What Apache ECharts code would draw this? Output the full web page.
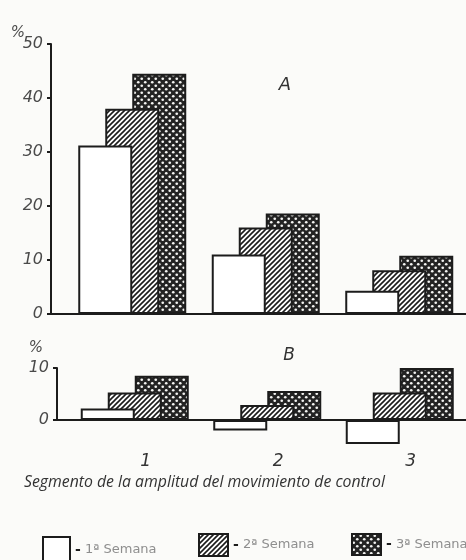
<!DOCTYPE html>
<html>
<head>
<meta charset="utf-8">
<script src="https://cdn.jsdelivr.net/npm/echarts@6/dist/echarts.min.js"></script>
<style>
  html, body { margin: 0; padding: 0; background: #fbfbf9; }
  #chart { width: 466px; height: 560px; }
</style>
</head>
<body>
<div id="chart"></div>
<script>
// Segments of the control-movement amplitude
const categories = ['1', '2', '3'];
const weekNames = ['1ª Semana', '2ª Semana', '3ª Semana'];

// Panel A, percentage per segment and week
const panelAWeek1 = [31.2, 11.0, 4.3];
const panelAWeek2 = [38.0, 16.0, 8.1];
const panelAWeek3 = [44.5, 18.6, 10.8];

// Panel B, percentage per segment and week
const panelBWeek1 = [2.2, -2.0, -4.6];
const panelBWeek2 = [5.3, 2.9, 5.3];
const panelBWeek3 = [8.5, 5.6, 10.0];

// Tick values of the two vertical axes
const panelATicks = [0, 10, 20, 30, 40, 50];
const panelBTicks = [0, 10];

const INK = '#1c1c1c';
const LABEL = '#4a4a4a';

// Fill patterns: diagonal hatching and a dark crosshatch with light dots
function hatchTile() {
  const s = 5;
  const c = document.createElement('canvas');
  c.width = s; c.height = s;
  const g = c.getContext('2d');
  g.fillStyle = '#ffffff';
  g.fillRect(0, 0, s, s);
  g.strokeStyle = INK;
  g.lineWidth = 1.6;
  g.beginPath();
  g.moveTo(-1, s + 1); g.lineTo(s + 1, -1);
  g.moveTo(-1, 1); g.lineTo(1, -1);
  g.moveTo(s - 1, s + 1); g.lineTo(s + 1, s - 1);
  g.stroke();
  return c;
}
function dotTile() {
  const s = 7;
  const c = document.createElement('canvas');
  c.width = s; c.height = s;
  const g = c.getContext('2d');
  g.fillStyle = '#232323';
  g.fillRect(0, 0, s, s);
  g.fillStyle = '#f4f4f2';
  [[1.75, 1.75], [5.25, 5.25]].forEach(([x, y]) => {
    g.beginPath(); g.arc(x, y, 1.35, 0, Math.PI * 2); g.fill();
  });
  return c;
}

const fills = [
  '#ffffff',
  { image: hatchTile(), repeat: 'repeat' },
  { image: dotTile(), repeat: 'repeat' }
];

const tickFont = { fontFamily: 'DejaVu Sans', fontStyle: 'italic', fontSize: 16, color: LABEL };

function frameX(gridIndex) {
  return {
    gridIndex, type: 'value', min: 0, max: 1,
    axisLine: { show: true, lineStyle: { color: INK, width: 2 } },
    axisTick: { show: false }, axisLabel: { show: false }, splitLine: { show: false }
  };
}
function frameY(gridIndex, ticks) {
  return {
    gridIndex, type: 'value',
    min: ticks[0], max: ticks[ticks.length - 1], interval: ticks[1] - ticks[0],
    axisLine: { show: true, lineStyle: { color: INK, width: 2 } },
    axisTick: { show: true, length: 4, lineStyle: { color: INK, width: 2 } },
    axisLabel: Object.assign({ margin: 8 }, tickFont),
    splitLine: { show: false }
  };
}

function bars(data, week, xAxisIndex, yAxisIndex) {
  return {
    type: 'bar', name: weekNames[week], data,
    xAxisIndex, yAxisIndex,
    barWidth: 54, barGap: '-50%',
    z: 4 - week,
    itemStyle: { color: fills[week], borderColor: INK, borderWidth: 2 },
    emphasis: { disabled: true },
    animation: false
  };
}

function legendFor(week, left, top, w, h) {
  return {
    data: [weekNames[week]], left, top, icon: 'rect',
    itemWidth: w, itemHeight: h, selectedMode: false,
    itemStyle: { borderColor: INK, borderWidth: 2 },
    formatter: n => '{d|-} ' + n,
    textStyle: {
      fontFamily: 'DejaVu Sans', fontSize: 13, color: '#8e8e8e',
      rich: { d: { color: INK, fontSize: 14, fontWeight: 'bold', fontFamily: 'DejaVu Sans' } }
    }
  };
}

const chart = echarts.init(document.getElementById('chart'), null, { renderer: 'canvas' });
chart.setOption({
  backgroundColor: '#fbfbf9',
  animation: false,
  grid: [
    { left: 51, top: 44, width: 430, height: 270 },
    { left: 65.5, top: 44, width: 405, height: 270 },
    { left: 57, top: 368, width: 430, height: 52 },
    { left: 68.5, top: 362.8, width: 405, height: 83.2 }
  ],
  xAxis: [
    frameX(0),
    { gridIndex: 1, type: 'category', data: categories, show: false },
    frameX(2),
    {
      gridIndex: 3, type: 'category', data: categories, position: 'bottom',
      axisLine: { show: false, onZero: false }, axisTick: { show: false },
      axisLabel: Object.assign({ margin: 7, padding: [0, 0, 0, 22] }, tickFont, { fontSize: 17, color: '#333' })
    }
  ],
  yAxis: [
    frameY(0, panelATicks),
    { gridIndex: 1, type: 'value', min: panelATicks[0], max: panelATicks[panelATicks.length - 1], show: false },
    frameY(2, panelBTicks),
    { gridIndex: 3, type: 'value', min: -5, max: 11, show: false }
  ],
  legend: [
    legendFor(0, 37, 531, 27, 26),
    legendFor(1, 193, 528, 29, 22),
    legendFor(2, 346, 528, 29, 21)
  ],
  graphic: [
    { type: 'text', x: 18, y: 33, style: { text: '%', fontFamily: 'DejaVu Sans', fontStyle: 'italic', fontSize: 15, fill: LABEL, align: 'center', verticalAlign: 'middle' } },
    { type: 'text', x: 36, y: 348, style: { text: '%', fontFamily: 'DejaVu Sans', fontStyle: 'italic', fontSize: 15, fill: LABEL, align: 'center', verticalAlign: 'middle' } },
    { type: 'text', x: 285, y: 85, style: { text: 'A', fontFamily: 'DejaVu Sans', fontStyle: 'italic', fontSize: 18, fill: '#333', align: 'center', verticalAlign: 'middle' } },
    { type: 'text', x: 289, y: 356, style: { text: 'B', fontFamily: 'DejaVu Sans', fontStyle: 'italic', fontSize: 17, fill: '#333', align: 'center', verticalAlign: 'middle' } },
    { type: 'text', x: 24, y: 482, style: { text: 'Segmento de la amplitud del movimiento de control', fontFamily: 'Open Sans', fontStyle: 'italic', fontSize: 15.8, fill: '#333', align: 'left', verticalAlign: 'middle' } }
  ],
  series: [
    bars(panelAWeek1, 0, 1, 1),
    bars(panelAWeek2, 1, 1, 1),
    bars(panelAWeek3, 2, 1, 1),
    bars(panelBWeek1, 0, 3, 3),
    bars(panelBWeek2, 1, 3, 3),
    bars(panelBWeek3, 2, 3, 3)
  ]
});
</script>
</body>
</html>
